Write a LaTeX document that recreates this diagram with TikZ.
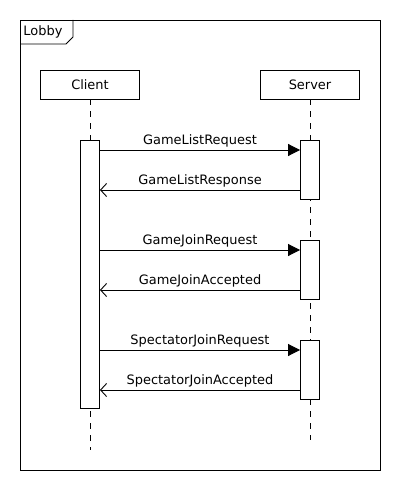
\documentclass[tikz,border=0pt]{standalone}
\usepackage{fontspec}
\setmainfont{DejaVu Sans}
\usetikzlibrary{arrows.meta, positioning, calc}

\begin{document}
\begin{tikzpicture}[x=1bp,y=-1bp,font=\fontsize{13}{15}\selectfont,line width=0.9bp,
    actor/.style={draw, minimum width=99bp, minimum height=29bp, inner sep=0pt},
    act/.style={draw, fill=white, minimum width=19bp, inner sep=0pt},
    life/.style={dash pattern=on 6bp off 6bp},
    call/.style={-{Triangle[length=12bp,width=12bp]}},
    reply/.style={-{Straight Barb[length=6bp,width=13bp]}},
    msg/.style={above, inner sep=2bp}]

            \useasboundingbox (0,0) rectangle (400,490);

            % frame
            \draw (20,20) rectangle (380,470);
            \draw (20,44) -- (66,44) -- (73,37) -- (73,20);
            \node[anchor=west, inner sep=0pt] (lobby) at (23,32) {Lobby};

            % participants
            \node[actor] (client) at (90,84.5) {Client};
            \node[actor] (server) at (310,84.5) {Server};
            \coordinate (cend) at (90,450);
            \coordinate (send) at (310,440);
            \draw[life] (client.south) -- (cend);
            \draw[life] (server.south) -- (send);

            % activations
            \node[act, minimum height=268bp] (ca) at (90,274) {};
            \node[act, minimum height=59bp] (s1) at (310,169.5) {};
            \node[act, minimum height=59bp] (s2) at (310,269.5) {};
            \node[act, minimum height=59bp] (s3) at (310,369.5) {};

            % messages
            \draw[call] (ca.east |- 0,150) -- node[msg] {GameListRequest} (s1.west |- 0,150);
            \draw[reply] (s1.west |- 0,190) -- node[msg] {GameListResponse} (ca.east |- 0,190);
            \draw[call] (ca.east |- 0,250) -- node[msg] {GameJoinRequest} (s2.west |- 0,250);
            \draw[reply] (s2.west |- 0,290) -- node[msg] {GameJoinAccepted} (ca.east |- 0,290);
            \draw[call] (ca.east |- 0,350) -- node[msg] {SpectatorJoinRequest} (s3.west |- 0,350);
            \draw[reply] (s3.west |- 0,390) -- node[msg] {SpectatorJoinAccepted} (ca.east |- 0,390);

        \end{tikzpicture}
\end{document}
